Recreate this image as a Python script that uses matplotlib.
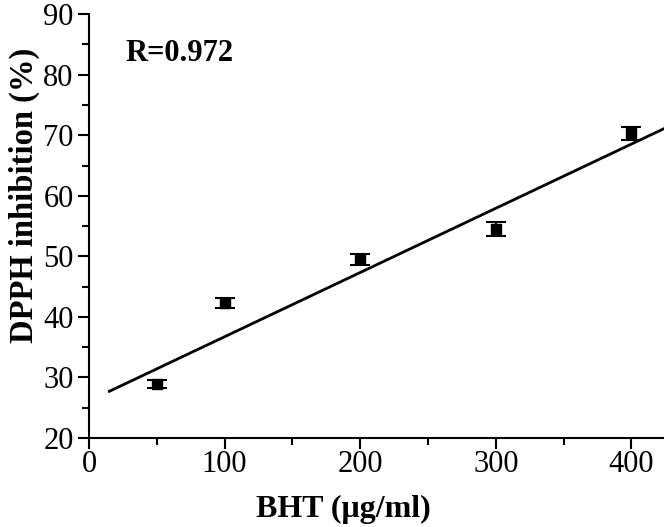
import matplotlib
matplotlib.use("Agg")
import matplotlib.pyplot as plt
from matplotlib.ticker import MultipleLocator

conc = [50, 100, 200, 300, 400]
inhibition = [28.9, 42.3, 49.5, 54.5, 70.3]
err = [0.7, 0.9, 0.9, 1.1, 1.0]
fit_x = [15, 424]
fit_y = [27.7, 71.1]
r_text = "R=0.972"

plt.rcParams['font.family'] = ['Liberation Serif', 'DejaVu Serif']

fig = plt.figure(figsize=(6.64, 5.27), dpi=100)
ax = fig.add_axes([0.134, 0.169, 0.866, 0.804])

ax.plot(fit_x, fit_y, color='black', lw=2.0, zorder=2)
ax.errorbar(conc, inhibition, yerr=err, fmt='s', color='black', ms=7,
            ecolor='black', elinewidth=1.5, capsize=7, capthick=1.5, zorder=3)

ax.set_xlim(0, 424)
ax.set_ylim(20, 90)
ax.xaxis.set_major_locator(MultipleLocator(100))
ax.xaxis.set_minor_locator(MultipleLocator(50))
ax.yaxis.set_major_locator(MultipleLocator(10))
ax.yaxis.set_minor_locator(MultipleLocator(5))

for s in ['top', 'right']:
    ax.spines[s].set_visible(False)
for s in ['left', 'bottom']:
    ax.spines[s].set_linewidth(1.5)

ax.tick_params(which='major', direction='out', length=8, width=1.5, labelsize=22)
ax.tick_params(which='minor', direction='out', length=5, width=1.5)
ax.tick_params(axis='x', which='major', pad=1)
ax.tick_params(axis='y', which='major', pad=3)

ax.set_xlabel('BHT (μg/ml)', fontsize=23, fontweight='bold')
ax.set_ylabel('DPPH inhibition (%)', fontsize=23.5, fontweight='bold')
ax.xaxis.set_label_coords(0.443, -0.135)
ax.yaxis.set_label_coords(-0.085, 0.573)

ax.text(0.063, 0.908, r_text, transform=ax.transAxes, fontsize=22, fontweight='bold',
        va='center', ha='left')

fig.savefig('out.png', dpi=100)
